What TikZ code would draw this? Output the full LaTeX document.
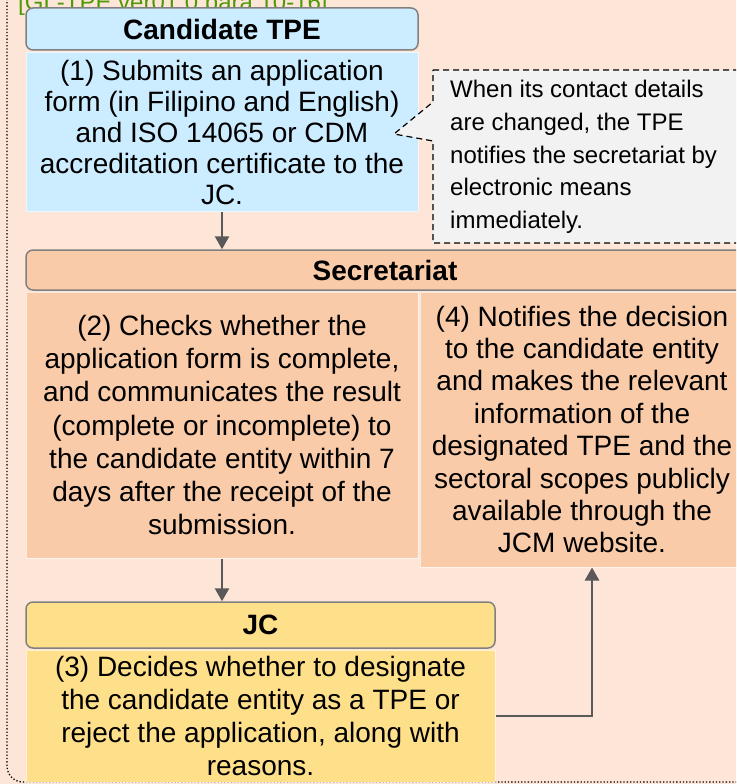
\documentclass[tikz,border=0pt]{standalone}
\usepackage{fontspec}
\setmainfont{Liberation Sans}
\usetikzlibrary{arrows.meta}
\definecolor{bgpeach}{HTML}{FDE5D7}
\definecolor{tpeblue}{HTML}{CCECFF}
\definecolor{secpeach}{HTML}{F9CBA9}
\definecolor{jcyellow}{HTML}{FFE08A}
\definecolor{notegray}{HTML}{F2F2F2}
\definecolor{arrowgray}{HTML}{595959}
\definecolor{headborder}{HTML}{808080}
\definecolor{refgreen}{HTML}{4E9A06}
\tikzset{
  headbox/.style={draw=headborder, line width=1.5pt, rounded corners=7pt, inner sep=0pt,
    font=\fontsize{28}{32}\selectfont\bfseries},
  bodybox/.style={draw=white, draw opacity=0.6, line width=1pt, inner sep=0pt, align=center},
  flow/.style={draw=arrowgray, line width=2.5pt, -{Triangle[length=13pt,width=14pt]}},
  notebox/.style={draw=black, line width=1.2pt, dash pattern=on 6pt off 4pt, fill=notegray},
  notetext/.style={inner sep=0pt, align=left, font=\fontsize{24}{32.7}\selectfont}
}
\begin{document}
\begin{tikzpicture}[x=1pt,y=-1pt]
\useasboundingbox (0,0) rectangle (736,784);
\clip (0,0) rectangle (736,784);
\fill[bgpeach] (0,0) rectangle (736,784);
\draw[line width=1.3pt, dotted, rounded corners=16pt] (7,-60) rectangle (800,782);
\node[anchor=base west, inner sep=0pt, text=refgreen, font=\fontsize{24}{24}\selectfont] (ref) at (18,11) {[GL-TPE ver01.0 para 10-16]};

% Candidate TPE
\node[headbox, fill=tpeblue, minimum width=392pt, minimum height=42pt] (tpehead) at (222,29) {Candidate TPE};
\node[bodybox, fill=tpeblue, minimum width=392pt, minimum height=159pt, font=\fontsize{28}{31}\selectfont] (tpebody) at (222,132)
  {(1) Submits an application\\form (in Filipino and English)\\and ISO 14065 or CDM\\accreditation certificate to the\\JC.};

% callout
\coordinate (tip) at (394,134);
\draw[notebox] (433,70) -- (760,70) -- (760,243) -- (433,243) -- (433,141) -- (tip) -- (433,102) -- cycle;
\node[notetext, anchor=west] (note) at (450,157)
  {When its contact details\\are changed, the TPE\\notifies the secretariat by\\electronic means\\immediately.};

% Secretariat
\node[headbox, fill=secpeach, minimum width=718pt, minimum height=40pt] (sechead) at (385,270) {Secretariat};
\node[bodybox, fill=secpeach, minimum width=392pt, minimum height=266pt, font=\fontsize{28}{33.3}\selectfont] (secbody) at (222,425)
  {(2) Checks whether the\\application form is complete,\\and communicates the result\\(complete or incomplete) to\\the candidate entity within 7\\days after the receipt of the\\submission.};
\node[bodybox, fill=secpeach, minimum width=324pt, minimum height=275pt, font=\fontsize{28}{32.4}\selectfont] (notify) at (582,429.5)
  {(4) Notifies the decision\\to the candidate entity\\and makes the relevant\\information of the\\designated TPE and the\\sectoral scopes publicly\\available through the\\JCM website.};

% JC
\node[headbox, fill=jcyellow, minimum width=469pt, minimum height=46pt] (jchead) at (260.5,625) {JC};
\node[bodybox, fill=jcyellow, minimum width=469pt, minimum height=132pt, font=\fontsize{28}{33.3}\selectfont] (jcbody) at (260.5,716)
  {(3) Decides whether to designate\\the candidate entity as a TPE or\\reject the application, along with\\reasons.};

% connectors
\draw[flow] (tpebody.south -| 222,0) -- (sechead.north -| 222,0);
\draw[flow] (secbody.south) -- (jchead.north -| 222,0);
\draw[flow] (jcbody.east) -| (notify.south -| 592,0);
\end{tikzpicture}
\end{document}
